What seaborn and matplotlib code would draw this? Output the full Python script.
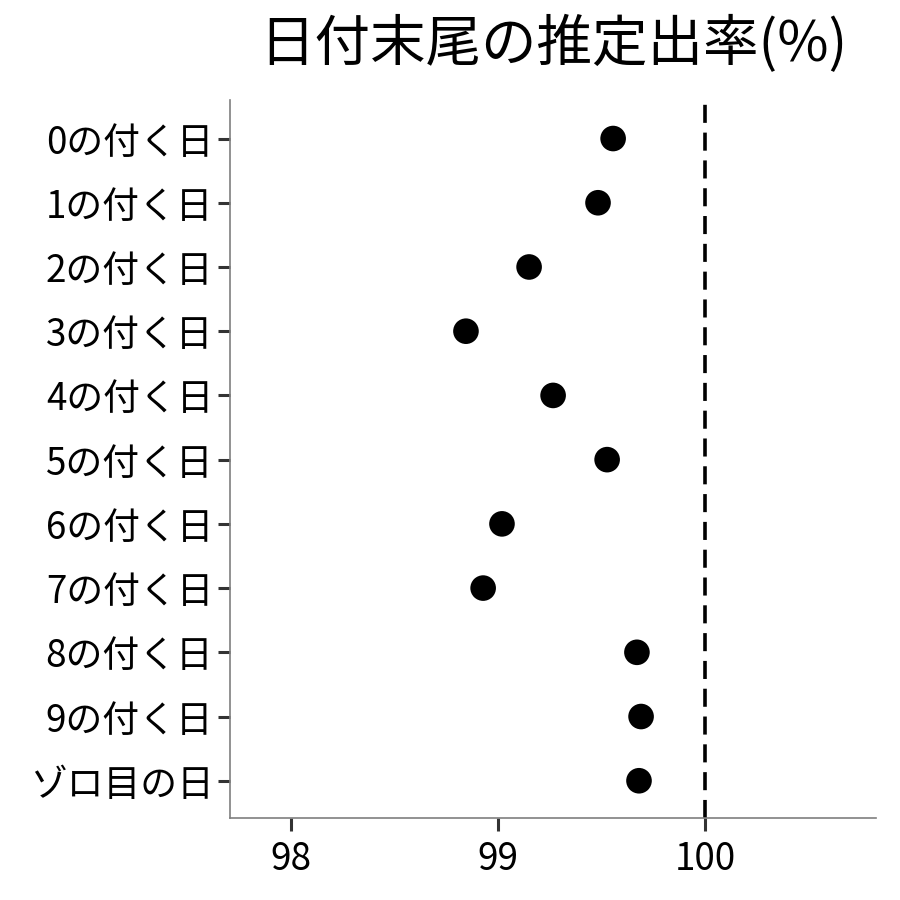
import matplotlib
matplotlib.use("Agg")
import matplotlib.pyplot as plt
import seaborn as sns
import pandas as pd

categories = ["0の付く日", "1の付く日", "2の付く日", "3の付く日", "4の付く日",
              "5の付く日", "6の付く日", "7の付く日", "8の付く日", "9の付く日", "ゾロ目の日"]
rates = [99.556, 99.483, 99.150, 98.845, 99.266, 99.527, 99.019, 98.928, 99.671, 99.691, 99.681]
xticks = [98, 99, 100]
title = "日付末尾の推定出率(%)"

sns.set_theme(style="white")
plt.rcParams['font.family'] = ['Noto Sans CJK JP', 'DejaVu Sans']

df = pd.DataFrame({"cat": categories, "rate": rates})
df["pos"] = range(len(categories))

fig = plt.figure(figsize=(9, 9), dpi=100)
ax = fig.add_axes([230/900, 1-818/900, (876-230)/900, (818-100)/900])

sns.scatterplot(data=df, x="rate", y="pos", ax=ax, color="black", s=340,
                edgecolor="none", legend=False, zorder=3)
ax.axvline(100, color="black", linestyle=(0, (5, 2.7)), linewidth=2.6, zorder=2)

ax.set_xlim(97.705, 100.826)
ax.set_ylim(len(categories) - 0.42, -0.6)
ax.set_yticks(range(len(categories)))
ax.set_yticklabels(categories)
ax.set_xticks(xticks)
ax.set_xticklabels([str(t) for t in xticks])
ax.set_xlabel("")
ax.set_ylabel("")

for s in ["top", "right"]:
    ax.spines[s].set_visible(False)
for s in ["left", "bottom"]:
    ax.spines[s].set_color("#7f7f7f")
    ax.spines[s].set_linewidth(1.2)

ax.tick_params(axis="both", which="major", length=9, width=2.2, color="#333333",
               labelsize=26.5, labelcolor="black", direction="out", left=True, bottom=True)
ax.tick_params(axis="y", pad=3)
ax.tick_params(axis="x", pad=7)

ax.set_title(title, fontsize=40, color="black", pad=28)

fig.savefig("out.png", dpi=100, facecolor="white")
